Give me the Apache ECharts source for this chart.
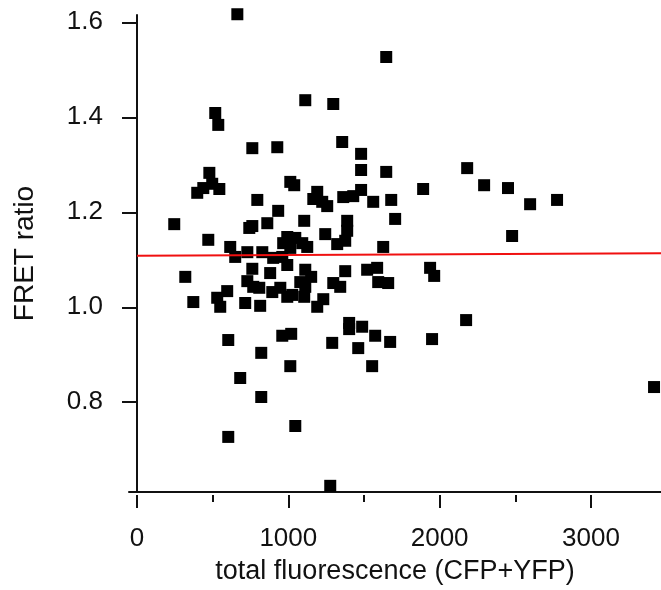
<!DOCTYPE html>
<html>
<head>
<meta charset="utf-8">
<script src="https://cdn.jsdelivr.net/npm/echarts@6/dist/echarts.min.js"></script>
<style>
html, body { margin: 0; padding: 0; background: #fff; }
#chart { width: 661px; height: 590px; }
</style>
</head>
<body>
<div id="chart"></div>
<script>
// values
const fluorescence = [
    663, 1647, 1112, 1297, 517, 537, 762, 927, 1356, 1481,
    1481, 1647, 478, 398, 438, 497, 544, 1013, 1039, 795,
    1191, 1165, 1224, 1257, 1363, 1429, 1481, 1561, 1680, 1706,
    933, 246, 1105, 861, 742, 762, 1389, 1389, 1376, 1323,
    1244, 471, 616, 1627, 2182, 2294, 2452, 1891, 2598, 2776,
    2479, 993, 1046, 1092, 1125, 966, 1013, 729, 828, 649,
    900, 960, 993, 762, 880, 729, 768, 808, 894, 947,
    993, 1026, 1105, 1079, 1112, 1151, 1112, 1191, 1231, 1297,
    1343, 1376, 1521, 1587, 1594, 1660, 1937, 1964, 319, 372,
    530, 550, 596, 715, 814,
    603, 682, 821, 821, 960, 1019, 1013, 1046, 603, 1277,
    1290, 1402, 1402, 1488, 1462, 1574, 1554, 1673, 2175, 1950, 3417
]
const fretRatio = [
    1.617, 1.527, 1.436, 1.428, 1.409, 1.384, 1.335, 1.337, 1.348, 1.323,
    1.289, 1.285, 1.283, 1.241, 1.251, 1.260, 1.249, 1.264, 1.257, 1.226,
    1.243, 1.228, 1.222, 1.213, 1.232, 1.234, 1.247, 1.222, 1.226, 1.186,
    1.203, 1.175, 1.182, 1.177, 1.167, 1.171, 1.182, 1.161, 1.140, 1.133,
    1.154, 1.142, 1.127, 1.127, 1.293, 1.257, 1.251, 1.249, 1.217, 1.226,
    1.150, 1.148, 1.146, 1.135, 1.127, 1.135, 1.125, 1.116, 1.116, 1.106,
    1.104, 1.106, 1.089, 1.081, 1.072, 1.055, 1.043, 1.041, 1.032, 1.041,
    1.022, 1.026, 1.022, 1.053, 1.079, 1.064, 1.043, 1.001, 1.017, 1.051,
    1.043, 1.076, 1.079, 1.083, 1.053, 1.051, 1.083, 1.066, 1.064, 1.011,
    1.020, 1.001, 1.034, 1.009, 1.003,
    0.931, 0.851, 0.904, 0.811, 0.940, 0.944, 0.876, 0.750, 0.727, 0.624,
    0.925, 0.967, 0.954, 0.959, 0.914, 0.940, 0.876, 0.927, 0.973, 0.933, 0.832
]
// linear fit (red line)
const fitX = [0, 3463]
const fitY = [1.1086, 1.1137]

const xTicks = [0, 1000, 2000, 3000]
const xMinorTicks = [500, 1500, 2500]
const yTicks = [0.8, 1.0, 1.2, 1.4, 1.6]

const font = 'Liberation Sans, Arial, Helvetica, sans-serif'
const ink = '#111'
const xRange = { min: -53, max: 3463 }

let points = fluorescence.map((x, i) => [x, fretRatio[i]])
let fitLine = fitX.map((x, i) => [x, fitY[i]])

let chart = echarts.init(document.getElementById('chart'))
chart.setOption({
    animation: false,
    backgroundColor: '#fff',
    grid: { left: 129, right: 0, top: 15, bottom: 98 },
    xAxis: [
        {   // axis line only
            type: 'value', position: 'bottom', ...xRange,
            axisLine: { show: true, lineStyle: { color: ink, width: 2 } },
            axisTick: { show: false }, axisLabel: { show: false }, splitLine: { show: false },
            name: 'total fluorescence (CFP+YFP)',
            nameLocation: 'middle',
            nameGap: 66,
            nameTextStyle: { fontFamily: font, fontSize: 27, color: ink },
        },
        {   // major ticks + labels, a bit below the line
            type: 'value', position: 'bottom', offset: 3, ...xRange,
            axisLine: { show: false },
            axisTick: { show: true, length: 13, customValues: xTicks, lineStyle: { color: ink, width: 2 } },
            axisLabel: {
                show: true, customValues: xTicks, margin: 31, fontFamily: font, fontSize: 26, color: ink,
                formatter: v => String(v),
            },
            splitLine: { show: false },
        },
        {   // minor ticks
            type: 'value', position: 'bottom', offset: 3, ...xRange,
            axisLine: { show: false },
            axisTick: { show: true, length: 7, customValues: xMinorTicks, lineStyle: { color: ink, width: 2 } },
            axisLabel: { show: false }, splitLine: { show: false },
        },
    ],
    yAxis: {
        type: 'value', min: 0.611, max: 1.6154,
        axisLine: { show: true, lineStyle: { color: ink, width: 2 } },
        axisTick: { show: true, length: 15, customValues: yTicks, lineStyle: { color: ink, width: 2 } },
        axisLabel: {
            customValues: yTicks, margin: 26, fontFamily: font, fontSize: 26, color: ink,
            formatter: v => v.toFixed(1),
        },
        splitLine: { show: false },
        name: 'FRET ratio',
        nameLocation: 'middle',
        nameRotate: 90,
        nameGap: 90,
        nameTextStyle: { fontFamily: font, fontSize: 28, color: ink },
    },
    series: [
        {
            type: 'scatter', xAxisIndex: 0, data: points,
            symbol: 'rect', symbolSize: 12, clip: false,
            itemStyle: { color: '#000', opacity: 1 },
        },
        {
            type: 'line', xAxisIndex: 0, data: fitLine,
            symbol: 'none', z: 3,
            lineStyle: { color: '#f01010', width: 2 },
        },
    ],
})
</script>
</body>
</html>
